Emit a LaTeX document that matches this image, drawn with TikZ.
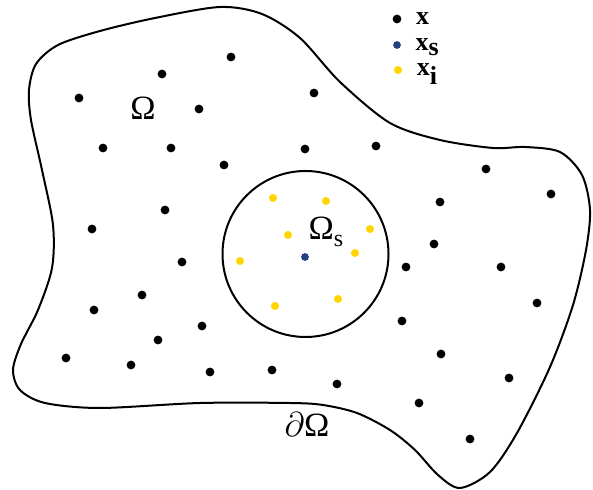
\documentclass[tikz,border=0pt]{standalone}
\usepackage{fontspec}
\setmainfont{Liberation Serif}
\usetikzlibrary{positioning}

\definecolor{ptblue}{RGB}{38,64,130}
\definecolor{ptyellow}{RGB}{255,212,0}

\tikzset{
    pt/.style={circle, fill=black, inner sep=0pt, minimum size=4.4pt},
    ptsrc/.style={pt, fill=ptblue, minimum size=3.9pt},
    ptint/.style={pt, fill=ptyellow, minimum size=4pt},
    lbl/.style={font=\fontsize{17}{20}\selectfont, inner sep=0pt},
    leg/.style={font=\fontsize{13}{15}\selectfont\bfseries, inner sep=0pt, anchor=west}
}

\begin{document}
\begin{tikzpicture}[x=0.5pt, y=-0.5pt]
    \useasboundingbox (0,0) rectangle (593,490);

    % domain boundary
    \draw[line width=1pt] plot[smooth cycle, tension=0.5] coordinates {
        (220,7) (262,14) (300,38) (340,82) (390,123) (440,140)
        (493,148) (525,147) (560,152) (582,175) (590,210) (586,250)
        (573,305) (550,367) (517,433) (490,472) (460,488) (438,475)
        (415,450) (390,430) (357,413) (323,405) (290,403) (200,403)
        (100,408) (45,403) (20,390) (13,370) (21,344) (38,310) (52,268)
        (53,225) (42,170) (31,120) (29,90) (36,64) (58,45) (100,31) (155,18)};

    % sub-domain
    \node[circle, draw, line width=1pt, minimum size=83pt, inner sep=0pt] (sub) at (305.5,254) {};

    % field points
    \foreach \px/\py [count=\k] in {231/57, 162/74, 79/98, 199/109, 103/148,
        171/148, 224/165, 165/210, 92/229, 314/93, 305/149, 376/146, 486/169,
        551/194, 440/202, 434/244, 182/262, 142/295, 94/310, 202/326, 158/340,
        66/358, 131/365, 210/372, 272/370, 406/267, 501/267, 537/303, 402/321,
        441/354, 509/378, 337/384, 419/403, 470/439}
        \node[pt] (p\k) at (\px,\py) {};

    % integration points
    \foreach \px/\py [count=\k] in {273/198, 326/201, 288/235, 370/229,
        355/253, 240/261, 275/306, 338/299}
        \node[ptint] (q\k) at (\px,\py) {};

    % source point
    \node[ptsrc] (src) at (305,257) {};

    % labels
    \node[lbl] (omega) at (143,108) {Ω};
    \node[lbl] (omegas) at (326,232) {Ω\raisebox{-0.45ex}{\fontsize{12}{12}\selectfont s}};
    \node[lbl] (bnd) at (307,425) {$\partial$Ω};

    % legend
    \node[pt] (legx) at (397,19) {};
    \node[ptsrc] (legs) at (397,45) {};
    \node[ptint] (legi) at (398,70) {};
    \node[leg, right=7pt of legx] (tx) {x};
    \node[leg, right=7pt of legs, yshift=-1pt] (ts) {x\raisebox{-0.4ex}{s}};
    \node[leg, right=7pt of legi, yshift=-2pt] (ti) {x\raisebox{-0.7ex}{i}};
\end{tikzpicture}
\end{document}
